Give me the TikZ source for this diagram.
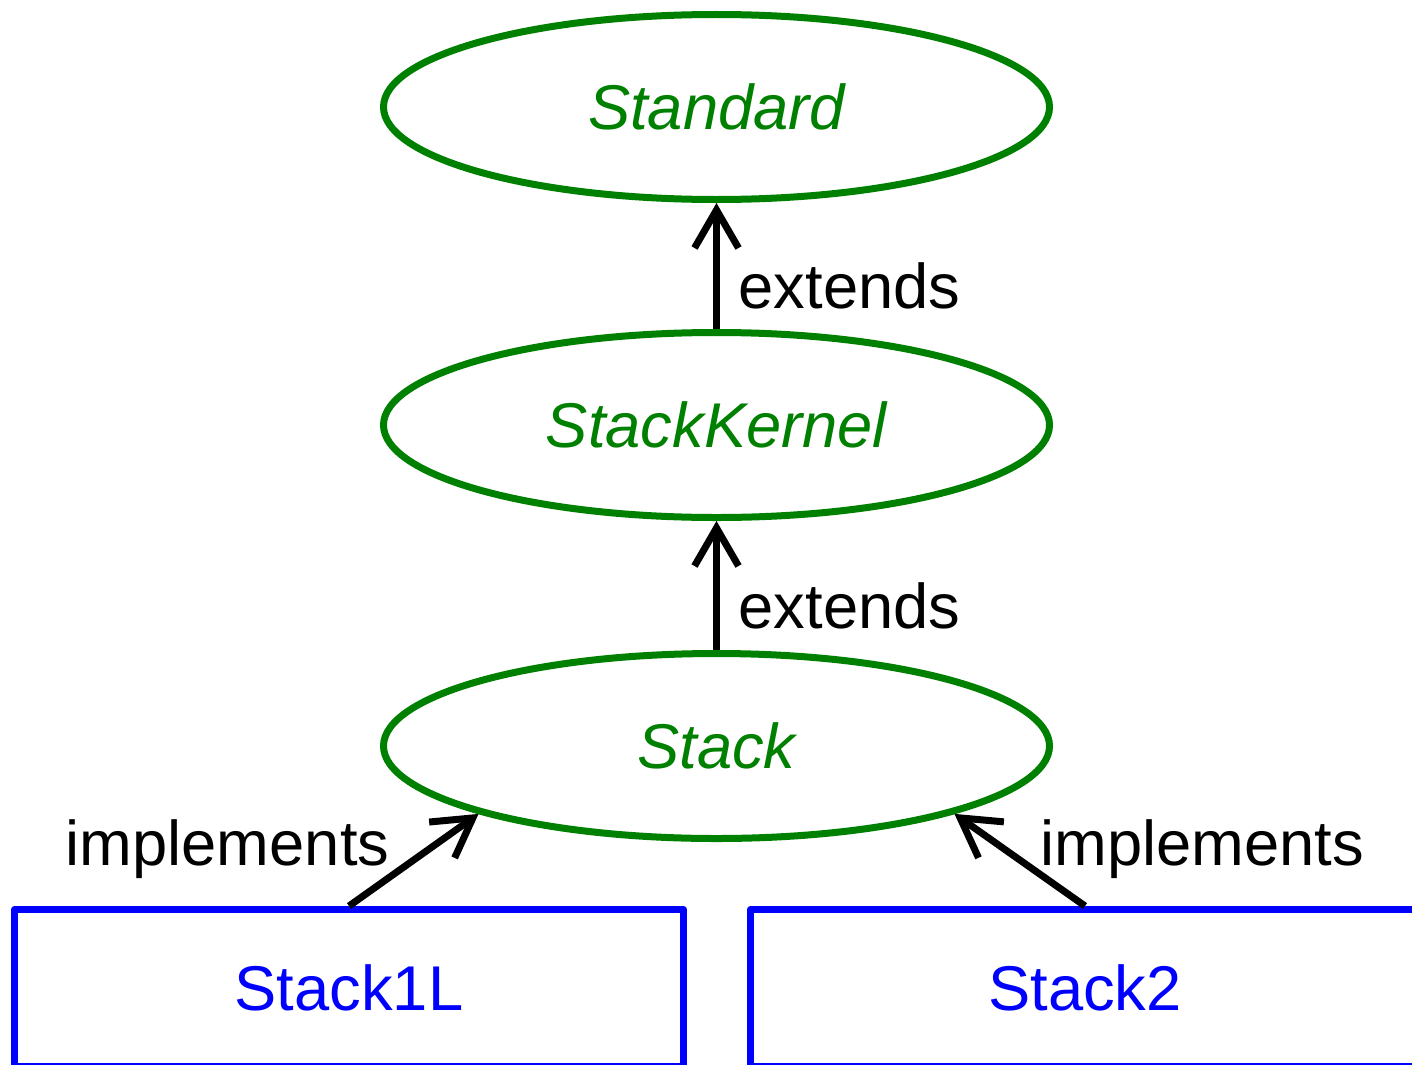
\documentclass[tikz,border=0pt]{standalone}
\usepackage{fontspec}
\setmainfont{Liberation Sans}
\usepackage{xcolor}
\usepackage{tikz}
\usetikzlibrary{shapes,arrows.meta,positioning,calc}

\definecolor{kgreen}{RGB}{0,128,0}

\begin{document}
\begin{tikzpicture}[
    font=\fontsize{18}{21.6}\selectfont,
    concept/.style={ellipse, draw=kgreen, line width=0.07cm, text=kgreen, font=\fontsize{18}{21.6}\selectfont\itshape, minimum width=6.66cm, minimum height=1.85cm},
    impl/.style={rectangle, draw=blue, line width=0.07cm, line join=round, text=blue, minimum width=6.69cm, minimum height=1.57cm},
    arrow/.style={-{Straight Barb[length=0.38cm, width=0.44cm]}, line width=0.07cm},
    rel/.style={inner sep=0pt}
]
\useasboundingbox (0,0) rectangle (14.12,10.64);
\clip (0,0) rectangle (14.12,10.64);

% Interfaces
\node[concept] (stack) at (7.165,3.18) {Stack};
\node[concept, above=1.29cm of stack] (kernel) {StackKernel};
\node[concept, above=1.26cm of kernel] (standard) {Standard};

% Implementations
\node[impl] (s1l) at (3.49,0.76) {Stack1L};
\node[impl] (s2) at (10.85,0.76) {Stack2};

% Arrows
\draw[arrow] (kernel) -- (standard);
\draw[arrow] (stack) -- (kernel);
\draw[arrow] (s1l.north) -- (stack.south west);
\draw[arrow] (s2.north) -- (stack.south east);

% Labels
\node[rel, anchor=base west] (ext1) at (7.38,7.56) {extends};
\node[rel, anchor=base west] (ext2) at (7.38,4.36) {extends};
\node[rel, anchor=base east] (imp1) at (3.90,1.99) {implements};
\node[rel, anchor=base west] (imp2) at (10.40,1.99) {implements};

\end{tikzpicture}
\end{document}
